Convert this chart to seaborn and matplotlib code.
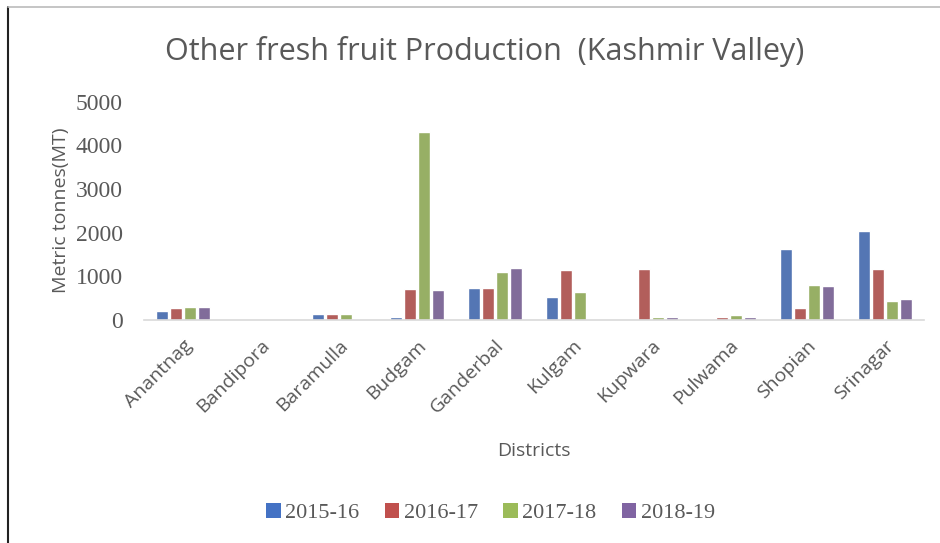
import matplotlib

matplotlib.use("Agg")
import matplotlib.pyplot as plt
from matplotlib.lines import Line2D
from matplotlib.patches import Patch
import seaborn as sns
import pandas as pd

# Data (metric tonnes)
districts = ["Anantnag", "Bandipora", "Baramulla", "Budgam", "Ganderbal",
             "Kulgam", "Kupwara", "Pulwama", "Shopian", "Srinagar"]
years = ["2015-16", "2016-17", "2017-18", "2018-19"]
y2015 = [200, 0, 140, 60, 740, 520, 30, 0, 1620, 2040]
y2016 = [270, 0, 140, 710, 740, 1130, 1160, 75, 280, 1160]
y2017 = [305, 0, 140, 4300, 1095, 630, 75, 105, 795, 440]
y2018 = [305, 0, 0, 690, 1185, 0, 75, 55, 765, 470]
yticks = [0, 1000, 2000, 3000, 4000, 5000]

colors = ["#4472C4", "#C0504D", "#9BBB59", "#8064A2"]
text_col = "#595959"

rows = []
for yr, vals in zip(years, [y2015, y2016, y2017, y2018]):
    for d, v in zip(districts, vals):
        rows.append({"District": d, "Year": yr, "MT": v})
df = pd.DataFrame(rows)

sns.set_style("white")
plt.rcParams["font.family"] = ["Open Sans", "DejaVu Sans"]

fig = plt.figure(figsize=(9.4, 5.43), dpi=100)
ax = fig.add_axes([0.153, 0.411, 0.830, 0.402])

sns.barplot(data=df, x="District", y="MT", hue="Year", palette=colors,
            order=districts, hue_order=years, width=0.72, gap=0.12,
            legend=False, ax=ax)

ax.set_ylim(0, 5000)
ax.set_xlim(-0.5, len(districts) - 0.5)
ax.set_yticks(yticks)
ax.set_yticklabels([str(t) for t in yticks], family="Liberation Serif",
                   fontsize=17, color=text_col)
ax.tick_params(axis="y", length=0, pad=15)
ax.tick_params(axis="x", length=0, pad=12)
ax.set_xticks(range(len(districts)))
ax.set_xticklabels(districts, rotation=45, ha="right", rotation_mode="anchor",
                   fontsize=14, color=text_col)

for s in ["top", "right", "left"]:
    ax.spines[s].set_visible(False)
ax.spines["bottom"].set_color("#D9D9D9")
ax.spines["bottom"].set_linewidth(1.2)

ax.set_xlabel("Districts", fontsize=14, color=text_col)
ax.set_ylabel("Metric tonnes(MT)", fontsize=14, color=text_col)
ax.xaxis.set_label_coords(0.5, -0.56)
ax.yaxis.set_label_coords(-0.095, 0.5)

fig.text(0.516, 0.905, "Other fresh fruit Production  (Kashmir Valley)",
         ha="center", va="center", fontsize=22, color=text_col)

handles = [Patch(facecolor=c, edgecolor="none") for c in colors]
fig.legend(handles, years, loc="center", bbox_to_anchor=(0.522, 0.055),
           ncol=4, frameon=False, handlelength=0.65, handleheight=0.65,
           handletextpad=0.2, columnspacing=1.15,
           prop={"family": "Liberation Serif", "size": 16},
           labelcolor=text_col)

# frame edges seen in the reference
fig.add_artist(Line2D([0.0085, 0.0085], [0, 0.987], color="#222222",
                      lw=1.5, transform=fig.transFigure))
fig.add_artist(Line2D([0.0085, 1], [0.987, 0.987], color="#BBBBBB",
                      lw=1.2, transform=fig.transFigure))

plt.savefig("out.png", dpi=100)
plt.close(fig)
